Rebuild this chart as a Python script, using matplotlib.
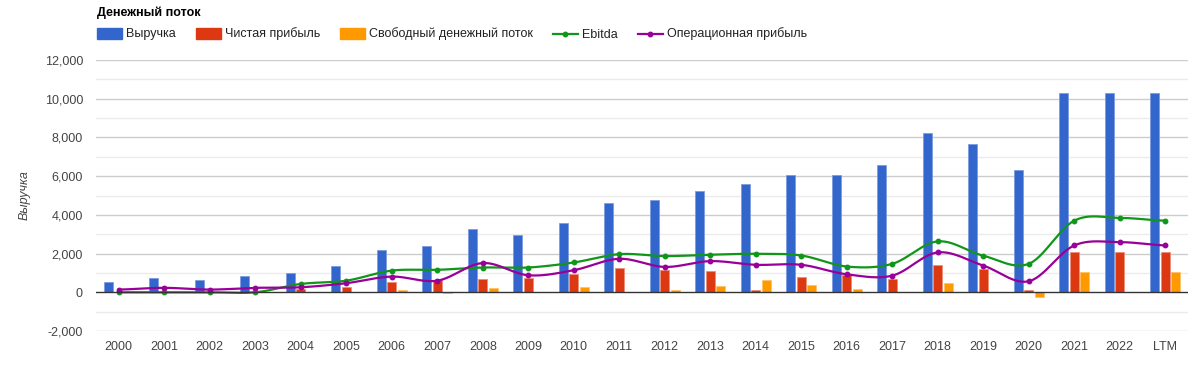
import numpy as np
import matplotlib
matplotlib.use('Agg')
from matplotlib import pyplot as plt
from matplotlib.patches import Rectangle
from matplotlib.lines import Line2D

plt.rcParams['font.family'] = ['Liberation Sans', 'DejaVu Sans']

# Data
years = ['2000', '2001', '2002', '2003', '2004', '2005', '2006', '2007',
         '2008', '2009', '2010', '2011', '2012', '2013', '2014', '2015',
         '2016', '2017', '2018', '2019', '2020', '2021', '2022', 'LTM']
revenue = [520, 730, 620, 830, 990, 1350, 2180, 2400, 3270, 2980, 3590, 4620,
           4770, 5250, 5600, 6070, 6080, 6550, 8210, 7640, 6340, 10270, 10270, 10270]
net_income = [0, 0, 0, 0, 170, 290, 520, 640, 710, 740, 940, 1280,
              1160, 1120, 140, 780, 900, 690, 1420, 1190, 120, 2060, 2060, 2060]
fcf = [0, 20, 0, 0, 10, 10, 140, -50, 230, 0, 280, 0,
       100, 330, 640, 360, 180, 0, 490, 0, -240, 1060, 30, 1060]
ebitda = [0, 0, 0, 0, 430, 600, 1120, 1160, 1280, 1280, 1540, 1970,
          1870, 1940, 1990, 1900, 1330, 1470, 2630, 1890, 1470, 3700, 3840, 3700]
op_income = [140, 230, 140, 230, 260, 470, 810, 600, 1510, 880, 1140, 1730,
             1310, 1610, 1420, 1420, 930, 860, 2060, 1380, 570, 2420, 2590, 2420]

labels = ['Выручка', 'Чистая прибыль', 'Свободный денежный поток',
          'Ebitda', 'Операционная прибыль']
colors = ['#3366cc', '#dc3912', '#ff9900', '#109618', '#990099']
edges = ['#7d9be0', '#ee8f78', '#ffc266']
FS = 9


def smooth(vals, n=30):
    # Catmull-Rom spline through the points, like curveType 'function'
    y = np.asarray(vals, dtype=float)
    xs, ys = [], []
    t = np.linspace(0, 1, n)
    for i in range(len(y) - 1):
        p0 = y[i - 1] if i > 0 else y[i]
        p1, p2 = y[i], y[i + 1]
        p3 = y[i + 2] if i + 2 < len(y) else y[i + 1]
        seg = 0.5 * ((2 * p1) + (-p0 + p2) * t +
                     (2 * p0 - 5 * p1 + 4 * p2 - p3) * t ** 2 +
                     (-p0 + 3 * p1 - 3 * p2 + p3) * t ** 3)
        xs.extend(i + t)
        ys.extend(seg)
    return np.array(xs), np.array(ys)


fig = plt.figure(figsize=(12, 3.74), dpi=100)
ax = fig.add_axes([96 / 1200, 1 - 331 / 374, 1092 / 1200, 271 / 374])

x = np.arange(len(years))
w = 0.198
off = 0.226
for vals, c, ec, dx in zip([revenue, net_income, fcf], colors[:3], edges, [-off, 0, off]):
    ax.bar(x + dx, vals, width=w, color=c, edgecolor=ec, linewidth=0.6, zorder=3)

for vals, c in zip([ebitda, op_income], colors[3:]):
    sx, sy = smooth(vals)
    ax.plot(sx, sy, color=c, lw=1.6, zorder=4)
    ax.plot(x, vals, 'o', color=c, ms=3.2, zorder=5)

ax.set_xlim(-0.5, len(years) - 0.5)
ax.set_ylim(-2000, 12000)
major = np.arange(-2000, 12001, 2000)
minor = np.arange(-1000, 12000, 2000)
for v in major:
    if v != 0:
        ax.axhline(v, color='#cccccc', lw=1, zorder=1)
for v in minor:
    ax.axhline(v, color='#ebebeb', lw=1, zorder=1)
ax.axhline(0, color='#333333', lw=1, zorder=6)

ax.set_yticks(major)
ax.set_yticklabels([f'{v:,}' for v in major])
ax.set_xticks(x)
ax.set_xticklabels(years)
ax.tick_params(length=0, labelsize=FS, colors='#444444')
ax.tick_params(axis='y', pad=9.4)
ax.tick_params(axis='x', pad=7.5)
for s in ax.spines.values():
    s.set_visible(False)
ax.set_ylabel('Выручка', fontsize=FS, style='italic', color='#444444')
ax.yaxis.set_label_coords(-65 / 1092, 0.5)

# title and legend row
fig.text(97 / 1200, 1 - 13 / 374, 'Денежный поток', fontsize=FS, weight='bold',
         va='center', ha='left', color='#000000')

fig.canvas.draw()
renderer = fig.canvas.get_renderer()
xpos = 97
ly = 1 - 33.5 / 374
base = 1 - 37.5 / 374
for i, (lab, c) in enumerate(zip(labels, colors)):
    if i < 3:
        fig.patches.append(Rectangle((xpos / 1200, 1 - 39 / 374), 25 / 1200, 11 / 374,
                                     transform=fig.transFigure, color=c))
    else:
        fig.lines.append(Line2D([xpos / 1200, (xpos + 25) / 1200], [ly, ly],
                                transform=fig.transFigure, color=c, lw=1.6))
        fig.lines.append(Line2D([(xpos + 12.5) / 1200], [ly], marker='o', ms=3.2,
                                transform=fig.transFigure, color=c))
    t = fig.text((xpos + 29) / 1200, base, lab, fontsize=FS, va='baseline', ha='left',
                 color='#222222')
    tw = t.get_window_extent(renderer).width
    xpos = xpos + 29 + tw + 20

fig.savefig('out.png', dpi=100)
